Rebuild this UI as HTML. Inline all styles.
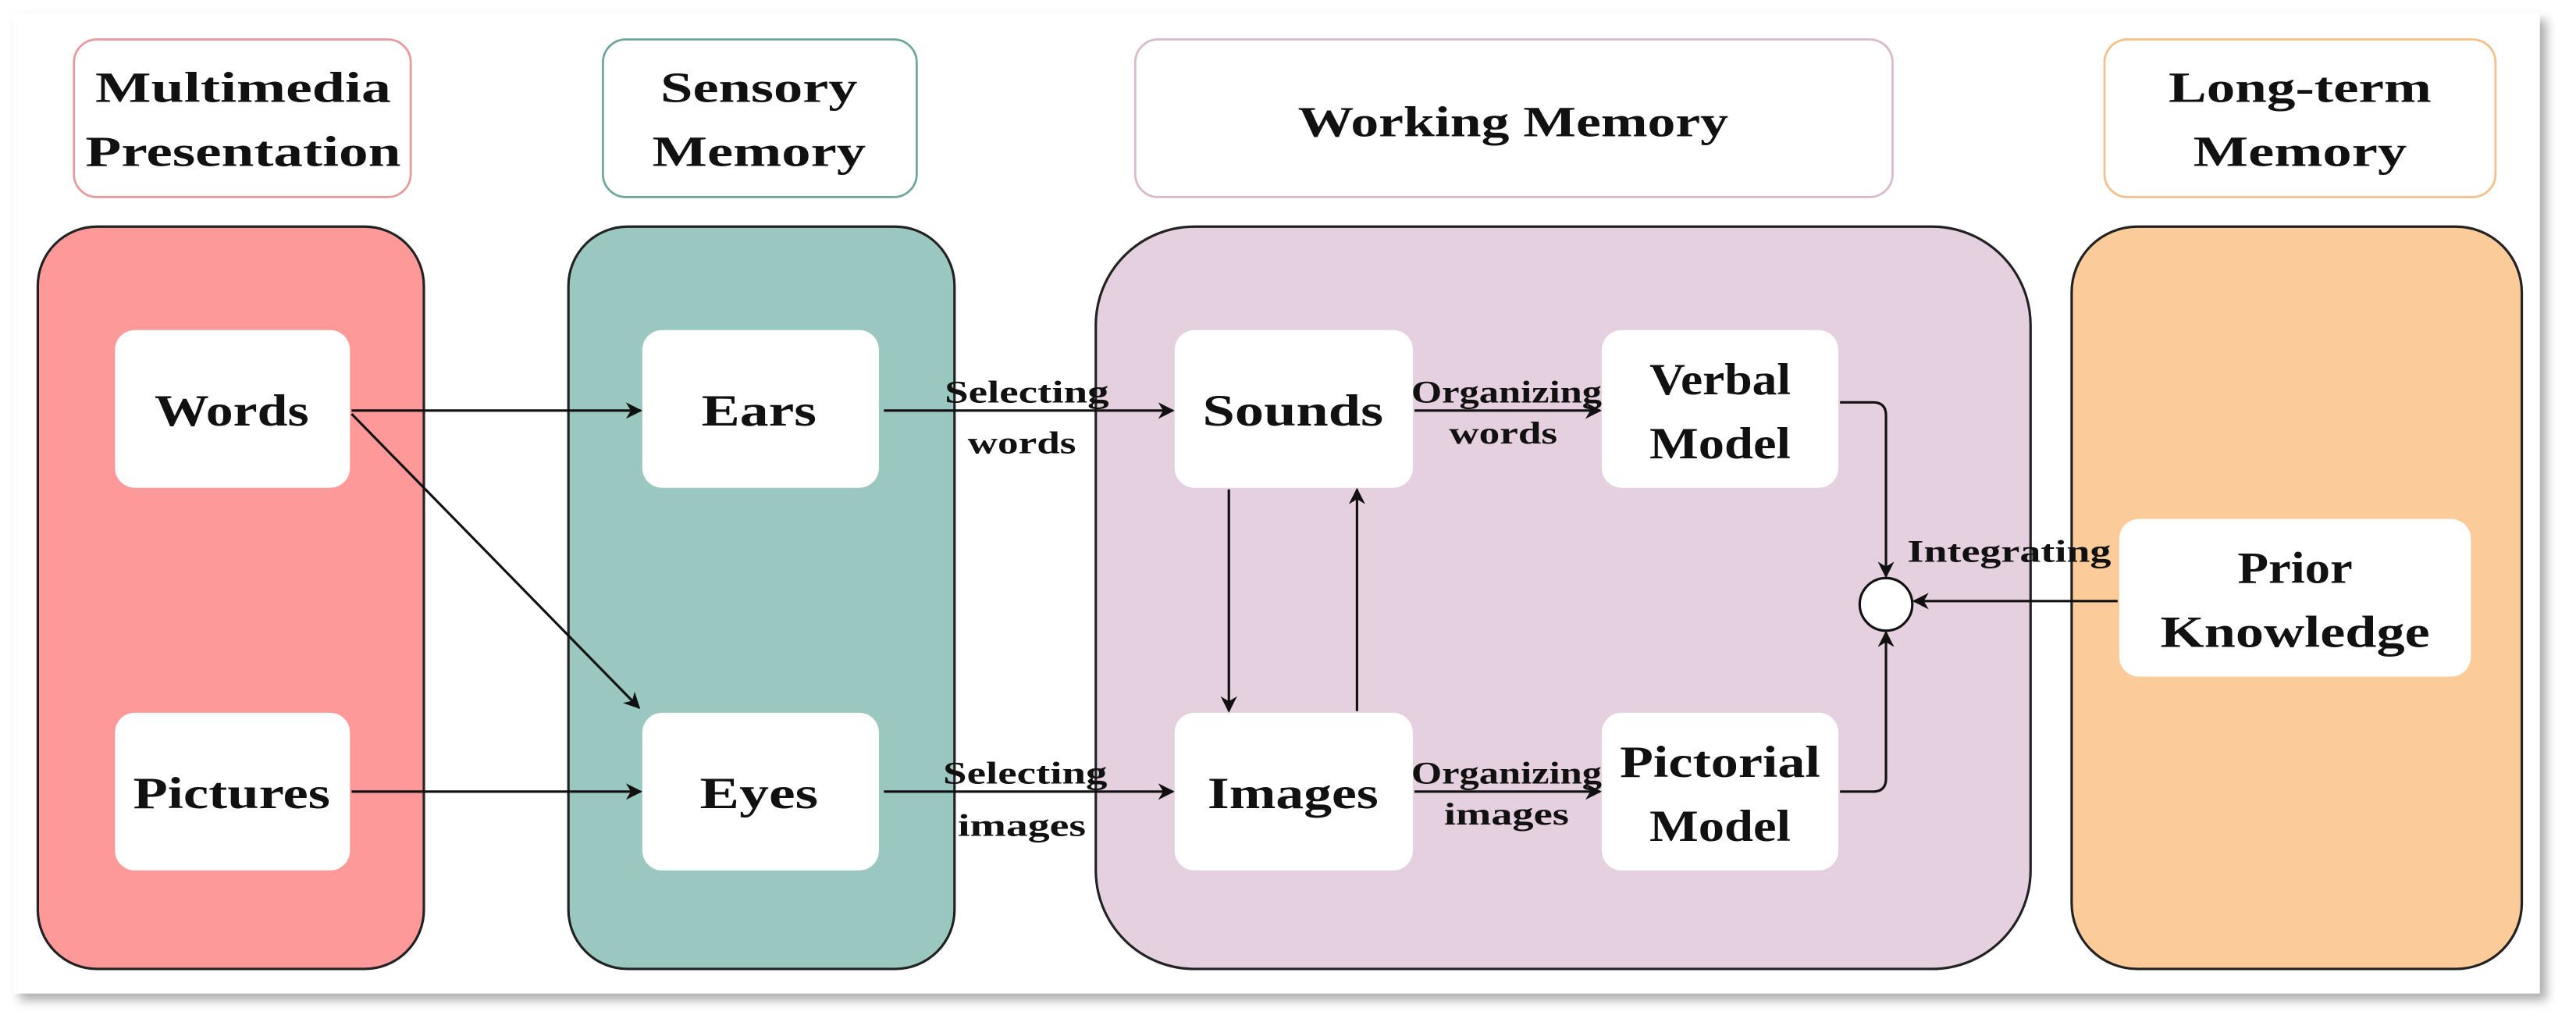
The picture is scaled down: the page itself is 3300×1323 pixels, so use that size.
<!DOCTYPE html>
<html><head><meta charset="utf-8"><style>
html,body{margin:0;padding:0;background:#fff;}
svg{display:block;}
text{font-family:"Liberation Serif",serif;font-weight:bold;fill:#111;text-anchor:middle;}
</style></head><body>
<svg width="3300" height="1323" viewBox="0 0 1568 629" preserveAspectRatio="none" xmlns="http://www.w3.org/2000/svg">
<defs>
<marker id="a" markerWidth="10" markerHeight="10" refX="9" refY="5" orient="auto" markerUnits="userSpaceOnUse"><path d="M0,0 L10,5 L0,10 L3,5 Z" fill="#111"/></marker>
<filter id="sh" x="-5%" y="-5%" width="110%" height="115%"><feDropShadow dx="4" dy="4" stdDeviation="3" flood-color="#888" flood-opacity="0.7"/></filter>
</defs>
<rect x="8" y="8" width="1538" height="597" fill="#fff" filter="url(#sh)"/>
<!-- headers -->
<rect x="45" y="24" width="205" height="96" rx="14" fill="#fff" stroke="#e79a9e" stroke-width="1.3"/>
<rect x="367" y="24" width="191" height="96" rx="14" fill="#fff" stroke="#6fa69c" stroke-width="1.3"/>
<rect x="691" y="24" width="461" height="96" rx="14" fill="#fff" stroke="#d7b9cb" stroke-width="1.3"/>
<rect x="1281" y="24" width="238" height="96" rx="14" fill="#fff" stroke="#f3c08b" stroke-width="1.3"/>
<g font-size="26">
<text x="148" y="62" textLength="180" lengthAdjust="spacingAndGlyphs">Multimedia</text>
<text x="148" y="101" textLength="192" lengthAdjust="spacingAndGlyphs">Presentation</text>
<text x="462" y="62" textLength="120" lengthAdjust="spacingAndGlyphs">Sensory</text>
<text x="462" y="101" textLength="130" lengthAdjust="spacingAndGlyphs">Memory</text>
<text x="921" y="83" textLength="262" lengthAdjust="spacingAndGlyphs">Working Memory</text>
<text x="1400" y="62" textLength="160" lengthAdjust="spacingAndGlyphs">Long-term</text>
<text x="1400" y="101" textLength="130" lengthAdjust="spacingAndGlyphs">Memory</text>
</g>
<!-- containers -->
<rect x="23" y="138" width="235" height="452" rx="36" fill="#fd9a99" stroke="#222" stroke-width="1.5"/>
<rect x="346" y="138" width="235" height="452" rx="36" fill="#9ac7bf" stroke="#222" stroke-width="1.5"/>
<rect x="667" y="138" width="569" height="452" rx="60" fill="#e5d0df" stroke="#222" stroke-width="1.5"/>
<rect x="1261" y="138" width="274" height="452" rx="40" fill="#fccb9a" stroke="#222" stroke-width="1.5"/>
<!-- inner boxes -->
<g fill="#fff">
<rect x="70" y="201" width="143" height="96" rx="12"/>
<rect x="70" y="434" width="143" height="96" rx="12"/>
<rect x="391" y="201" width="144" height="96" rx="12"/>
<rect x="391" y="434" width="144" height="96" rx="12"/>
<rect x="715" y="201" width="145" height="96" rx="12"/>
<rect x="715" y="434" width="145" height="96" rx="12"/>
<rect x="975" y="201" width="144" height="96" rx="12"/>
<rect x="975" y="434" width="144" height="96" rx="12"/>
<rect x="1290" y="316" width="214" height="96" rx="12"/>
</g>
<g font-size="27">
<text x="141" y="259" textLength="94" lengthAdjust="spacingAndGlyphs">Words</text>
<text x="141" y="492" textLength="120" lengthAdjust="spacingAndGlyphs">Pictures</text>
<text x="462" y="259" textLength="70" lengthAdjust="spacingAndGlyphs">Ears</text>
<text x="462" y="492" textLength="72" lengthAdjust="spacingAndGlyphs">Eyes</text>
<text x="787" y="259" textLength="110" lengthAdjust="spacingAndGlyphs">Sounds</text>
<text x="787" y="492" textLength="104" lengthAdjust="spacingAndGlyphs">Images</text>
<text x="1047" y="240" textLength="86" lengthAdjust="spacingAndGlyphs">Verbal</text>
<text x="1047" y="279" textLength="86" lengthAdjust="spacingAndGlyphs">Model</text>
<text x="1047" y="473" textLength="122" lengthAdjust="spacingAndGlyphs">Pictorial</text>
<text x="1047" y="512" textLength="86" lengthAdjust="spacingAndGlyphs">Model</text>
<text x="1397" y="355" textLength="70" lengthAdjust="spacingAndGlyphs">Prior</text>
<text x="1397" y="394" textLength="164" lengthAdjust="spacingAndGlyphs">Knowledge</text>
</g>
<!-- arrows -->
<g stroke="#111" stroke-width="1.5" fill="none" marker-end="url(#a)">
<line x1="214" y1="250" x2="390" y2="250"/>
<line x1="214" y1="252" x2="389" y2="431"/>
<line x1="214" y1="482" x2="390" y2="482"/>
<line x1="538" y1="250" x2="714" y2="250"/>
<line x1="538" y1="482" x2="714" y2="482"/>
<line x1="748" y1="298" x2="748" y2="433"/>
<line x1="826" y1="433" x2="826" y2="298"/>
<line x1="861" y1="250" x2="974" y2="250"/>
<line x1="861" y1="482" x2="974" y2="482"/>
<path d="M1120,245 H1140 Q1148,245 1148,253 V351"/>
<path d="M1120,482 H1140 Q1148,482 1148,474 V385"/>
<line x1="1289" y1="366" x2="1165" y2="366"/>
</g>
<circle cx="1148" cy="368" r="16" fill="#fff" stroke="#111" stroke-width="1.5"/>
<g font-size="19">
<text x="625" y="245" textLength="100" lengthAdjust="spacingAndGlyphs">Selecting</text>
<text x="622" y="276" textLength="66" lengthAdjust="spacingAndGlyphs">words</text>
<text x="624" y="477" textLength="100" lengthAdjust="spacingAndGlyphs">Selecting</text>
<text x="622" y="509" textLength="78" lengthAdjust="spacingAndGlyphs">images</text>
<text x="917" y="245" textLength="116" lengthAdjust="spacingAndGlyphs">Organizing</text>
<text x="915" y="270" textLength="66" lengthAdjust="spacingAndGlyphs">words</text>
<text x="917" y="477" textLength="116" lengthAdjust="spacingAndGlyphs">Organizing</text>
<text x="917" y="502" textLength="76" lengthAdjust="spacingAndGlyphs">images</text>
<text x="1223" y="342" textLength="124" lengthAdjust="spacingAndGlyphs">Integrating</text>
</g>
</svg>
</body></html>
